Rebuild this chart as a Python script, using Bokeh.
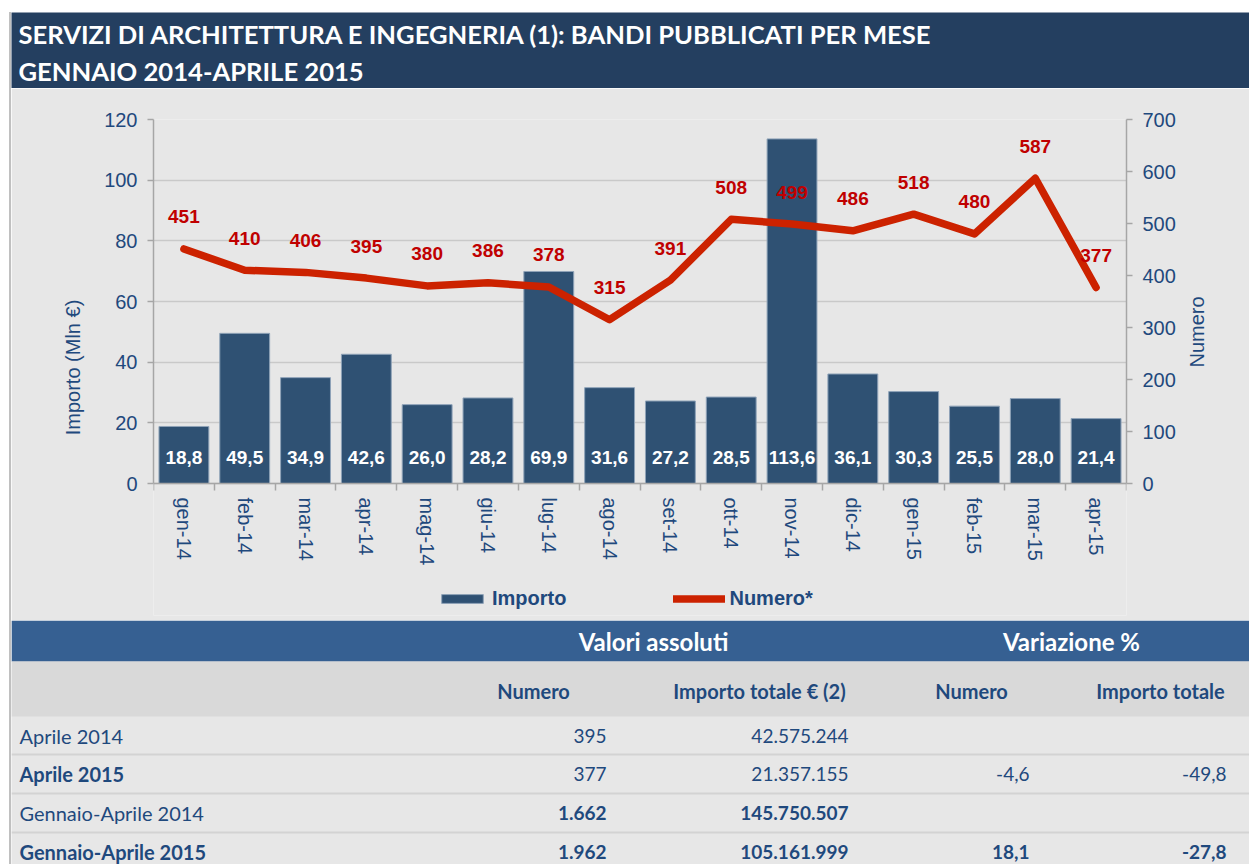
import math
from bokeh.plotting import figure
from bokeh.models import (Range1d, LinearAxis, FixedTicker, SingleIntervalTicker, Label,
                          Legend, LegendItem, ColumnDataSource, Title)
from bokeh.layouts import column
from bokeh.embed import file_html
from bokeh.resources import INLINE
from bokeh.core.properties import value

# ---------------- data ----------------
months = ["gen-14", "feb-14", "mar-14", "apr-14", "mag-14", "giu-14", "lug-14", "ago-14",
          "set-14", "ott-14", "nov-14", "dic-14", "gen-15", "feb-15", "mar-15", "apr-15"]
importo = [18.8, 49.5, 34.9, 42.6, 26.0, 28.2, 69.9, 31.6, 27.2, 28.5, 113.6, 36.1, 30.3, 25.5, 28.0, 21.4]
numero = [451, 410, 406, 395, 380, 386, 378, 315, 391, 508, 499, 486, 518, 480, 587, 377]

title_lines = ["SERVIZI DI ARCHITETTURA E INGEGNERIA (1): BANDI PUBBLICATI PER MESE",
               "GENNAIO 2014-APRILE 2015"]
series_names = ["Importo", "Numero*"]
left_axis_title = "Importo (Mln €)"
right_axis_title = "Numero"
importo_max = 120
numero_max = 700

table_groups = ["Valori assoluti", "Variazione %"]
table_columns = ["Numero", "Importo totale € (2)", "Numero", "Importo totale"]
table_rows = ["Aprile 2014", "Aprile 2015", "Gennaio-Aprile 2014", "Gennaio-Aprile 2015"]
table_numero = ["395", "377", "1.662", "1.962"]
table_importo = ["42.575.244", "21.357.155", "145.750.507", "105.161.999"]
table_var_numero = ["", "-4,6", "", "18,1"]
table_var_importo = ["", "-49,8", "", "-27,8"]
row_label_bold = [False, True, False, True]
row_values_bold = [False, False, True, True]

# ---------------- style ----------------
W = 1238
BG = "#e7e7e7"
NAVY = "#243f60"
TXT = "#1f497d"
BAR = "#2f5173"
RED = "#cc2200"
LABRED = "#c00000"
HDR = "#366092"
HDR2 = "#d9d9d9"
ARIAL = "Liberation Sans"
CAL = "Lato"


def bare(fig, bg):
    fig.axis.visible = False
    fig.grid.visible = False
    fig.outline_line_color = None
    fig.background_fill_color = bg
    fig.border_fill_color = bg
    fig.frame_align = False


# ---------------- title bar ----------------
TT = 76
tf = figure(width=W, height=TT, x_range=Range1d(0, 1), y_range=Range1d(0, 1),
            output_backend="svg", toolbar_location=None, min_border=0)
bare(tf, NAVY)
for i, line in enumerate(title_lines):
    tf.add_layout(Label(x=7, y=55 - 37 * i, x_units="screen", y_units="screen", text=line,
                        text_color="white", text_font=CAL, text_font_style="bold",
                        text_font_size="25.6px", text_baseline="middle"))

# ---------------- chart ----------------
# geometry (pixels): plotting area 364 px tall for 0..max; the frame continues
# 132 px below the zero line to hold the month labels and the legend.
CH = 532
TOP = 31
PLOT_H = 364
BELOW = 132
n = len(months)
centers = [i + 0.5 for i in range(n)]
src = ColumnDataSource(dict(
    x=centers, importo=importo, numero=numero,
    lab=[f"{v:.1f}".replace(".", ",") for v in importo],
    numlab=[str(v) for v in numero]))

p = figure(width=W, height=CH, x_range=Range1d(0, n),
           y_range=Range1d(-importo_max * BELOW / PLOT_H, importo_max),
           output_backend="svg", toolbar_location=None,
           min_border_left=142, min_border_right=123, min_border_top=TOP,
           min_border_bottom=CH - TOP - PLOT_H - BELOW)
p.frame_align = False
p.background_fill_color = BG
p.border_fill_color = BG
p.outline_line_color = None
p.xgrid.visible = False
p.ygrid.grid_line_color = "#c9c9c9"
p.ygrid.grid_line_width = 1.5
p.ygrid.bounds = (0, importo_max)

p.extra_y_ranges = {"num": Range1d(-numero_max * BELOW / PLOT_H, numero_max)}
right = LinearAxis(y_range_name="num", ticker=SingleIntervalTicker(interval=100, num_minor_ticks=0),
                   axis_label=right_axis_title, bounds=(0, numero_max))
p.add_layout(right, "right")

left = p.yaxis[0]
left.ticker = SingleIntervalTicker(interval=20, num_minor_ticks=0)
left.bounds = (0, importo_max)
p.ygrid.ticker = left.ticker

for ax in (left, right):
    ax.axis_line_color = "#a6a6a6"
    ax.axis_line_width = 1.5
    ax.major_tick_line_color = "#a6a6a6"
    ax.major_tick_line_width = 1.5
    ax.major_tick_out = 6
    ax.major_tick_in = 0
    ax.minor_tick_line_color = None
    ax.major_label_text_font = ARIAL
    ax.major_label_text_font_size = "20px"
    ax.major_label_text_color = TXT
    ax.major_label_standoff = 10
    ax.axis_label_text_font = ARIAL
    ax.axis_label_text_font_size = "20px"
    ax.axis_label_text_font_style = "normal"
    ax.axis_label_text_color = TXT
right.axis_label_standoff = 18
right.axis_label_orientation = math.pi / 2

# left axis title
p.add_layout(Title(text=left_axis_title, align="center", offset=34, standoff=36,
                   text_font=ARIAL, text_font_size="20px", text_font_style="normal",
                   text_color=TXT), "left")

xa = p.xaxis[0]
xa.fixed_location = 0
xa.ticker = FixedTicker(ticks=centers, minor_ticks=list(range(n + 1)))
xa.major_label_overrides = {c: m for c, m in zip(centers, months)}
xa.major_label_orientation = "vertical"
xa.axis_line_color = "#a6a6a6"
xa.axis_line_width = 1.5
xa.major_tick_line_color = None
xa.major_tick_out = 8
xa.major_tick_in = 0
xa.minor_tick_line_color = "#a6a6a6"
xa.minor_tick_line_width = 1.5
xa.minor_tick_out = 7
xa.minor_tick_in = 0
xa.major_label_standoff = 6
xa.major_label_text_font = ARIAL
xa.major_label_text_font_size = "20px"
xa.major_label_text_color = TXT

bars = p.vbar(x="x", top="importo", width=0.82, source=src, fill_color=BAR,
              line_color="#8fa3b8", line_width=1)
p.text(x="x", y=0, text="lab", source=src, y_offset=-26, text_align="center",
       text_baseline="middle", text_color="white", text_font=value(ARIAL),
       text_font_style="bold", text_font_size="19px")
line = p.line(x="x", y="numero", source=src, y_range_name="num", line_color=RED,
              line_width=7.5, line_join="round", line_cap="round")
p.text(x="x", y="numero", text="numlab", source=src, y_range_name="num", y_offset=-32,
       text_align="center", text_baseline="middle", text_color=LABRED,
       text_font=value(ARIAL), text_font_style="bold", text_font_size="19px")

legend = Legend(items=[LegendItem(label=series_names[0], renderers=[bars]),
                       LegendItem(label=series_names[1], renderers=[line])],
                location=(283, 5), orientation="horizontal", glyph_width=52, glyph_height=11,
                label_height=11, label_standoff=4, spacing=107, padding=0, margin=0,
                background_fill_alpha=0, border_line_color=None,
                label_text_font=ARIAL, label_text_font_style="bold",
                label_text_font_size="20px", label_text_color=TXT, label_text_baseline="middle")
p.add_layout(legend)

# ---------------- table ----------------
TH = 244
tb = figure(width=W, height=TH, x_range=Range1d(0, W), y_range=Range1d(TH, 0),
            output_backend="svg", toolbar_location=None, min_border=0)
bare(tb, BG)
tb.quad(left=[0, 0], right=[W, W], top=[0, 41], bottom=[41, 96], fill_color=[HDR, HDR2], line_color=None)
row_tops = [96, 134, 173, 212]
row_h = [38, 39, 39, 39]
tb.segment(x0=[0] * 3, x1=[W] * 3, y0=row_tops[1:], y1=row_tops[1:], line_color="#d3d3d3", line_width=2)

group_x = [642, 1060]
tb.text(x=group_x, y=[21, 21], text=table_groups, text_align="center", text_baseline="middle",
        text_color="white", text_font=value(CAL), text_font_style="bold", text_font_size="24px")
col_x = [522, 748, 960, 1149]
tb.text(x=col_x, y=[70] * 4, text=table_columns, text_align="center", text_baseline="middle",
        text_color=TXT, text_font=value(CAL), text_font_style="bold", text_font_size="20px")

ry = [t + h / 2 for t, h in zip(row_tops, row_h)]
val_x = [595, 837, 1018, 1215]
for r in range(len(table_rows)):
    tb.text(x=[8], y=[ry[r]], text=[table_rows[r]], text_align="left", text_baseline="middle",
            text_color=TXT, text_font=value(CAL),
            text_font_style="bold" if row_label_bold[r] else "normal", text_font_size="20px")
    vals = [table_numero[r], table_importo[r], table_var_numero[r], table_var_importo[r]]
    tb.text(x=val_x, y=[ry[r]] * 4, text=vals, text_align="right", text_baseline="middle",
            text_color=TXT, text_font=value(CAL),
            text_font_style="bold" if row_values_bold[r] else "normal", text_font_size="19px")

layout = column(tf, p, tb, spacing=0, margin=(12, 0, 0, 9),
                styles={"border-left": "2px solid #c0c0c0"})

open("out.html", "w").write(file_html(layout, INLINE))
